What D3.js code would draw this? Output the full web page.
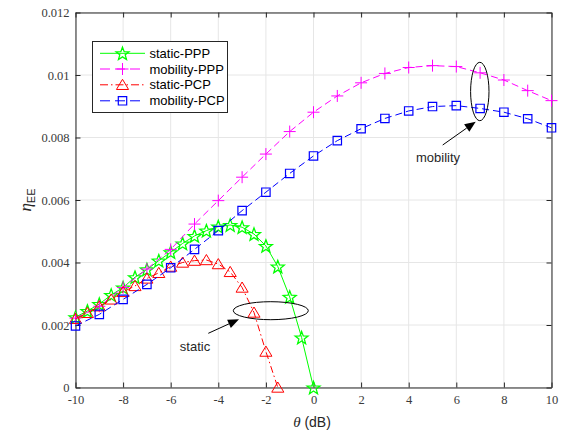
<!DOCTYPE html>
<html>
<head>
<meta charset="utf-8">
<script src="https://cdn.jsdelivr.net/npm/d3@7"></script>
<style>
  body { margin: 0; background: #fff; }
  svg { display: block; }
</style>
</head>
<body>
<svg id="chart" width="568" height="433"></svg>
<script>
// x positions (theta in dB)
const thetaHalf = [-10, -9.5, -9, -8.5, -8, -7.5, -7, -6.5, -6, -5.5, -5, -4.5, -4, -3.5, -3, -2.5, -2, -1.5, -1, -0.5, 0];
const thetaFull = [-10, -9, -8, -7, -6, -5, -4, -3, -2, -1, 0, 1, 2, 3, 4, 5, 6, 7, 8, 9, 10];

// series values
const staticPPP = [0.00225, 0.00245, 0.00267, 0.00296, 0.0032, 0.00353, 0.00378, 0.00406, 0.00433, 0.00461,
  0.00485, 0.00502, 0.00515, 0.0052, 0.00513, 0.00491, 0.00453, 0.00387, 0.0029, 0.0016, 0.0];
const mobilityPPP = [0.00222, 0.0026, 0.0032, 0.00379, 0.00442, 0.00523, 0.00598, 0.00673, 0.00747, 0.00819,
  0.00881, 0.00933, 0.00975, 0.01005, 0.01024, 0.0103, 0.01027, 0.01007, 0.00984, 0.0095, 0.00918];
const staticPCP = [0.0022, 0.00239, 0.0026, 0.00282, 0.00306, 0.00325, 0.00349, 0.00367, 0.00387, 0.004,
  0.00406, 0.00408, 0.00395, 0.0037, 0.0032, 0.0024, 0.00115, 0.0];
const mobilityPCP = [0.00197, 0.00234, 0.00282, 0.0033, 0.00383, 0.00442, 0.00502, 0.00566, 0.00625, 0.00685,
  0.00741, 0.0079, 0.00828, 0.00861, 0.00885, 0.00899, 0.00902, 0.00893, 0.00881, 0.0086, 0.00831];

const xTicks = [-10, -8, -6, -4, -2, 0, 2, 4, 6, 8, 10];
const yTicks = [0, 0.002, 0.004, 0.006, 0.008, 0.01, 0.012];

// custom marker shapes
const symStar = { draw(ctx, size) {
  const R = size, r = size * 0.42;
  for (let i = 0; i < 10; i++) {
    const rad = i % 2 === 0 ? R : r;
    const a = -Math.PI / 2 + i * Math.PI / 5;
    const px = rad * Math.cos(a), py = rad * Math.sin(a) + size * 0.1;
    if (i === 0) ctx.moveTo(px, py); else ctx.lineTo(px, py);
  }
  ctx.closePath();
}};
const symPlus = { draw(ctx, size) {
  ctx.moveTo(-size, 0); ctx.lineTo(size, 0);
  ctx.moveTo(0, -size); ctx.lineTo(0, size);
}};
const symTri = { draw(ctx, size) {
  ctx.moveTo(0, -size); ctx.lineTo(size * 1.1, size * 0.85); ctx.lineTo(-size * 1.1, size * 0.85); ctx.closePath();
}};
const symSquare = { draw(ctx, size) {
  ctx.rect(-size, -size, size * 2, size * 2);
}};

const series = [
  { name: "static-PPP", xs: thetaHalf, ys: staticPPP, color: "#00ff00", dash: null, sym: symStar, size: 6.8, mw: 1.3 },
  { name: "mobility-PPP", xs: thetaFull, ys: mobilityPPP, color: "#ff00ff", dash: "7,4", sym: symPlus, size: 6, mw: 1 },
  { name: "static-PCP", xs: thetaHalf.slice(0, staticPCP.length), ys: staticPCP, color: "#ff0000", dash: "7,3,1.5,3", sym: symTri, size: 5.5, mw: 1 },
  { name: "mobility-PCP", xs: thetaFull, ys: mobilityPCP, color: "#0000ff", dash: "7,4", sym: symSquare, size: 4.2, mw: 1.2 }
];

const svg = d3.select("#chart");
const L = 75.5, R = 551.5, T = 12.5, B = 387.5;
const x = d3.scaleLinear().domain([-10, 10]).range([L, R]);
const y = d3.scaleLinear().domain([0, 0.012]).range([B, T]);

const serif = "'Liberation Serif', 'DejaVu Serif', serif";
const sans = "'Liberation Sans', Arial, sans-serif";

// grid
const grid = svg.append("g");
grid.selectAll(".gx").data(xTicks).enter().append("line")
  .attr("x1", d => x(d)).attr("x2", d => x(d)).attr("y1", T).attr("y2", B)
  .attr("stroke", "#e6e6e6").attr("stroke-width", 1);
grid.selectAll(".gy").data(yTicks).enter().append("line")
  .attr("x1", L).attr("x2", R).attr("y1", d => y(d)).attr("y2", d => y(d))
  .attr("stroke", "#e6e6e6").attr("stroke-width", 1);

// axes
const fmtY = d => d === 0 ? "0" : String(+d.toFixed(3));
const fmtX = d => String(d);
const axB = svg.append("g").attr("transform", `translate(0,${B})`)
  .call(d3.axisBottom(x).tickValues(xTicks).tickSizeInner(-5).tickSizeOuter(0).tickPadding(8).tickFormat(fmtX));
const axT = svg.append("g").attr("transform", `translate(0,${T})`)
  .call(d3.axisTop(x).tickValues(xTicks).tickSizeInner(-5).tickSizeOuter(0).tickFormat(""));
const axL = svg.append("g").attr("transform", `translate(${L},0)`)
  .call(d3.axisLeft(y).tickValues(yTicks).tickSizeInner(-5).tickSizeOuter(0).tickPadding(6).tickFormat(fmtY));
const axR = svg.append("g").attr("transform", `translate(${R},0)`)
  .call(d3.axisRight(y).tickValues(yTicks).tickSizeInner(-5).tickSizeOuter(0).tickFormat(""));
[axB, axT, axL, axR].forEach(a => {
  a.select(".domain").attr("stroke", "#262626");
  a.selectAll(".tick line").attr("stroke", "#262626");
  a.selectAll(".tick text").attr("font-family", null).attr("font-size", null)
    .style("font-family", serif).style("font-size", "12.5px").attr("fill", "#3a3a3a");
});
axB.selectAll(".tick text").attr("dy", "0.71em");

// lines and markers
series.forEach(s => {
  const pts = s.xs.map((v, i) => [v, s.ys[i]]);
  const line = d3.line().x(d => x(d[0])).y(d => y(d[1]));
  svg.append("path").datum(pts)
    .attr("d", line).attr("fill", "none").attr("stroke", s.color).attr("stroke-width", 1)
    .attr("stroke-dasharray", s.dash);
  svg.append("g").selectAll("path").data(pts).enter().append("path")
    .attr("transform", d => `translate(${x(d[0])},${y(d[1])})`)
    .attr("d", d3.symbol().type(s.sym).size(s.size))
    .attr("fill", "none").attr("stroke", s.color).attr("stroke-width", s.mw);
});

// annotations
svg.append("ellipse").attr("cx", 270.8).attr("cy", 310.7).attr("rx", 37.5).attr("ry", 9)
  .attr("fill", "none").attr("stroke", "#000").attr("stroke-width", 1);
svg.append("ellipse").attr("cx", 479.8).attr("cy", 91.5).attr("rx", 9.2).attr("ry", 29.2)
  .attr("fill", "none").attr("stroke", "#000").attr("stroke-width", 1);

function arrow(x1, y1, x2, y2) {
  const ang = Math.atan2(y2 - y1, x2 - x1), len = 11, w = 4.5;
  const bx = x2 - len * Math.cos(ang), by = y2 - len * Math.sin(ang);
  svg.append("line").attr("x1", x1).attr("y1", y1).attr("x2", bx).attr("y2", by)
    .attr("stroke", "#000").attr("stroke-width", 1);
  svg.append("path").attr("d", `M${x2},${y2}L${bx - w * Math.sin(ang)},${by + w * Math.cos(ang)}L${bx + w * Math.sin(ang)},${by - w * Math.cos(ang)}Z`)
    .attr("fill", "#000");
}
arrow(208.3, 333.3, 239, 319.3);
arrow(442.7, 145, 475.7, 121.7);

svg.append("text").attr("x", 195).attr("y", 351).attr("text-anchor", "middle")
  .style("font-family", sans).style("font-size", "13px").attr("fill", "#262626")
  .text("static");
svg.append("text").attr("x", 438).attr("y", 161.5).attr("text-anchor", "middle")
  .style("font-family", sans).style("font-size", "13px").attr("fill", "#262626")
  .text("mobility");

// legend
const lg = svg.append("g");
lg.append("rect").attr("x", 92.5).attr("y", 41.5).attr("width", 135).attr("height", 71)
  .attr("fill", "#fff").attr("stroke", "#262626").attr("stroke-width", 1);
const rowY = [53.3, 69, 84.8, 100.8];
series.forEach((s, i) => {
  const yy = rowY[i];
  lg.append("line").attr("x1", 100).attr("x2", 145).attr("y1", yy).attr("y2", yy)
    .attr("stroke", s.color).attr("stroke-width", 1)
    .attr("stroke-dasharray", s.dash === "7,4" ? "10,5" : s.dash === null ? null : "8,3,1.5,3");
  lg.append("path").attr("transform", `translate(122.5,${yy})`)
    .attr("d", d3.symbol().type(s.sym).size(s.size))
    .attr("fill", "none").attr("stroke", s.color).attr("stroke-width", s.mw);
  lg.append("text").attr("x", 149.5).attr("y", yy + 4.6)
    .style("font-family", sans).style("font-size", "13px").attr("fill", "#000")
    .text(s.name);
});

// axis labels
const xl = svg.append("text").attr("x", 312).attr("y", 427).attr("text-anchor", "middle").attr("fill", "#262626");
xl.append("tspan").style("font-family", serif).style("font-style", "italic").style("font-size", "15px").text("θ");
xl.append("tspan").style("font-family", sans).style("font-size", "14px").text(" (dB)");

const yl = svg.append("text").attr("transform", "translate(31,200) rotate(-90)").attr("text-anchor", "middle").attr("fill", "#262626");
yl.append("tspan").style("font-family", serif).style("font-style", "italic").style("font-size", "17px").text("η");
yl.append("tspan").attr("dy", 4).style("font-family", sans).style("font-size", "11px").text("EE");
</script>
</body>
</html>
